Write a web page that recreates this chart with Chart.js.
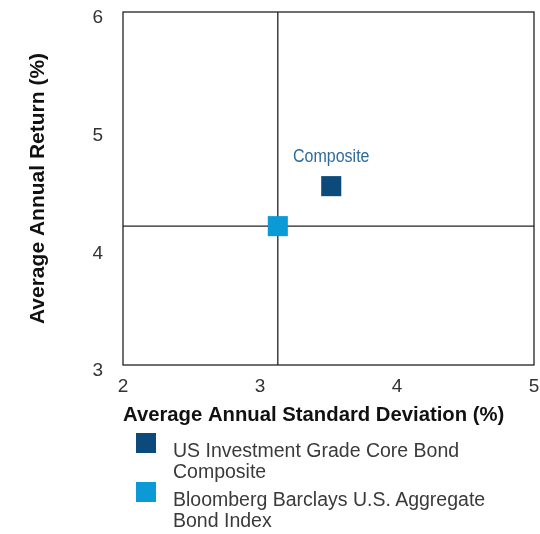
<!DOCTYPE html>
<html>
<head>
<meta charset="utf-8">
<script src="https://cdn.jsdelivr.net/npm/chart.js@4/dist/chart.umd.min.js"></script>
<style>
  html, body { margin: 0; padding: 0; background: #fff; }
  #wrap { position: relative; width: 540px; height: 534px; }
  #legend { position: absolute; left: 136px; top: 440px; font-family: "Liberation Sans", Arial, sans-serif; font-size: 19.5px; color: #3a3a3a; }
  .item { position: relative; padding-left: 37px; line-height: 21px; margin-bottom: 7px; white-space: nowrap; }
  .sw { position: absolute; left: 0; top: -7px; width: 20px; height: 20px; }
</style>
</head>
<body>
<div id="wrap">
  <canvas id="chart" width="540" height="534"></canvas>
  <div id="legend"></div>
</div>
<script>
// series
const seriesNames = ['US Investment Grade Core Bond Composite', 'Bloomberg Barclays U.S. Aggregate Bond Index'];
const legendLines = [['US Investment Grade Core Bond', 'Composite'], ['Bloomberg Barclays U.S. Aggregate', 'Bond Index']];
const stdDev = [3.52, 3.13];
const annReturn = [4.52, 4.18];
const colors = ['#0b4a7a', '#0c9ad6'];
const pointLabels = ['Composite', ''];

// axes
const xTicks = [2, 3, 4, 5];
const yTicks = [3, 4, 5, 6];

// crosshair at the index position
const crossX = 3.13;
const crossY = 4.18;

const frame = {
    id: 'frame',
    afterDatasetsDraw(chart) {
        const { ctx, chartArea: a } = chart;
        ctx.save();
        ctx.strokeStyle = '#222';
        ctx.lineWidth = 1.3;
        ctx.strokeRect(a.left, a.top, a.right - a.left, a.bottom - a.top);
        ctx.restore();
    }
};

// condensed label above the composite square
const pointText = {
    id: 'pointText',
    afterDatasetsDraw(chart) {
        const { ctx } = chart;
        seriesNames.forEach((n, i) => {
            if (!pointLabels[i]) return;
            const p = chart.getDatasetMeta(i + 2).data[0];
            ctx.save();
            ctx.font = '18px "Liberation Sans", sans-serif';
            ctx.fillStyle = '#2e6a9c';
            ctx.textAlign = 'center';
            ctx.textBaseline = 'middle';
            ctx.translate(p.x, p.y - 29);
            ctx.scale(0.89, 1);
            ctx.fillText(pointLabels[i], 0, 0);
            ctx.restore();
        });
    }
};

const tickFont = { family: 'Liberation Sans', size: 19 };

const ctx = document.getElementById('chart').getContext('2d');
new Chart(ctx, {
    type: 'scatter',
    data: {
        datasets: [
            {
                type: 'line',
                data: [{ x: crossX, y: yTicks[0] }, { x: crossX, y: yTicks[yTicks.length - 1] }],
                borderColor: '#222', borderWidth: 1.3, pointRadius: 0, order: 5
            },
            {
                type: 'line',
                data: [{ x: xTicks[0], y: crossY }, { x: xTicks[xTicks.length - 1], y: crossY }],
                borderColor: '#222', borderWidth: 1.3, pointRadius: 0, order: 5
            },
            ...seriesNames.map((n, i) => ({
                label: n,
                data: [{ x: stdDev[i], y: annReturn[i] }],
                pointStyle: 'rect',
                pointRadius: 14.2,
                pointHoverRadius: 14.2,
                backgroundColor: colors[i],
                borderColor: colors[i],
                borderWidth: 0,
                order: 1
            }))
        ]
    },
    options: {
        responsive: false,
        animation: false,
        layout: { autoPadding: false, padding: { left: 0, right: 6, top: 12, bottom: 0 } },
        plugins: { legend: { display: false }, tooltip: { enabled: false } },
        scales: {
            x: {
                type: 'linear', min: 2, max: 5,
                grid: { display: false, drawTicks: false },
                border: { display: false },
                afterBuildTicks: s => { s.ticks = xTicks.map(v => ({ value: v })); },
                afterFit: s => { s.height = 169; s.paddingLeft = 0; s.paddingRight = 0; },
                ticks: { padding: 10, color: '#333', font: tickFont },
                title: { display: true, align: 'start', text: 'Average Annual Standard Deviation (%)', color: '#111',
                         font: { family: 'Liberation Sans', size: 20.3, weight: 'bold' }, padding: { bottom: 106 } }
            },
            y: {
                type: 'linear', min: 3, max: 6,
                grid: { display: false, drawTicks: false },
                border: { display: false },
                afterBuildTicks: s => { s.ticks = yTicks.map(v => ({ value: v })); },
                afterFit: s => { s.width = 123; s.paddingTop = 0; s.paddingBottom = 0; },
                ticks: { padding: 20, labelOffset: 6, color: '#333', font: tickFont },
                title: { display: true, text: 'Average Annual Return (%)', color: '#111',
                         font: { family: 'Liberation Sans', size: 21, weight: 'bold' }, padding: { top: 26 } }
            }
        }
    },
    plugins: [frame, pointText]
});

// legend with wrapped lines
const lg = document.getElementById('legend');
legendLines.forEach((lines, i) => {
    const d = document.createElement('div');
    d.className = 'item';
    d.innerHTML = '<span class="sw" style="background:' + colors[i] + '"></span>' + lines.join('<br>');
    lg.appendChild(d);
});
</script>
</body>
</html>
